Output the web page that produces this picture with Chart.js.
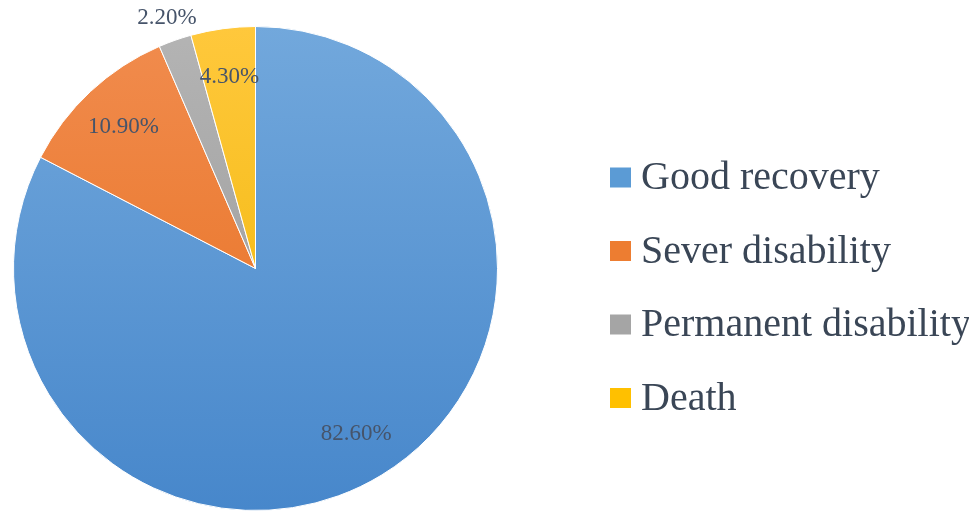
<!DOCTYPE html>
<html lang="en">
<head>
  <meta charset="UTF-8">
  <title>Outcome pie chart</title>
  <script src="https://cdn.jsdelivr.net/npm/chart.js"></script>
  <style>
    body { margin: 0; background: #fff; }
  </style>
</head>
<body>
  <canvas id="outcomeChart" width="969" height="514"></canvas>
  <script>
    const outcomes = ['Good recovery', 'Sever disability', 'Permanent disability', 'Death'];
    const percents = [82.6, 10.9, 2.2, 4.3];
    const topColors = ['#72a8dc', '#f18c4e', '#b4b4b4', '#ffc83c'];
    const bottomColors = ['#4787cb', '#e66d1c', '#959595', '#eeb400'];
    const legendColors = ['#5b9bd5', '#ed7d31', '#a5a5a5', '#ffc000'];

    function sliceFill(context) {
      const chart = context.chart;
      const area = chart.chartArea;
      const i = context.dataIndex;
      if (!area) return legendColors[i];
      const g = chart.ctx.createLinearGradient(0, area.top, 0, area.bottom);
      g.addColorStop(0, topColors[i]);
      g.addColorStop(1, bottomColors[i]);
      return g;
    }

    // percent labels, small slices get pushed outside
    const pctLabels = {
      id: 'pctLabels',
      afterDatasetsDraw(chart) {
        const ctx = chart.ctx;
        const meta = chart.getDatasetMeta(0);
        const total = percents.reduce((a, b) => a + b, 0);
        ctx.save();
        ctx.font = '23px "Liberation Serif", "Times New Roman", serif';
        ctx.fillStyle = '#46546a';
        ctx.textAlign = 'center';
        ctx.textBaseline = 'middle';
        meta.data.forEach((arc, i) => {
          const p = arc.getProps(['x', 'y', 'startAngle', 'endAngle', 'outerRadius'], true);
          const mid = (p.startAngle + p.endAngle) / 2;
          const r = percents[i] / total < 0.03 ? p.outerRadius * 1.1 : p.outerRadius * 0.8;
          ctx.fillText(percents[i].toFixed(2) + '%', p.x + Math.cos(mid) * r, p.y + Math.sin(mid) * r);
        });
        ctx.restore();
      }
    };

    const sideLegend = {
      id: 'sideLegend',
      afterDraw(chart) {
        const ctx = chart.ctx;
        ctx.save();
        ctx.font = '40px "Liberation Serif", "Times New Roman", serif';
        ctx.textBaseline = 'middle';
        outcomes.forEach((name, i) => {
          const cy = 177.5 + i * 73.5;
          ctx.fillStyle = legendColors[i];
          ctx.fillRect(610, cy - 10, 21, 20);
          ctx.fillStyle = '#3a4656';
          ctx.fillText(name, 641, cy + 1);
        });
        ctx.restore();
      }
    };

    new Chart(document.getElementById('outcomeChart'), {
      type: 'pie',
      data: {
        labels: outcomes,
        datasets: [{
          data: percents,
          backgroundColor: sliceFill,
          borderColor: '#ffffff',
          borderWidth: 1
        }]
      },
      options: {
        responsive: false,
        animation: false,
        layout: { padding: { left: 13, top: 26, right: 471, bottom: 3 } },
        plugins: {
          legend: { display: false },
          tooltip: { enabled: false }
        }
      },
      plugins: [pctLabels, sideLegend]
    });
  </script>
</body>
</html>
